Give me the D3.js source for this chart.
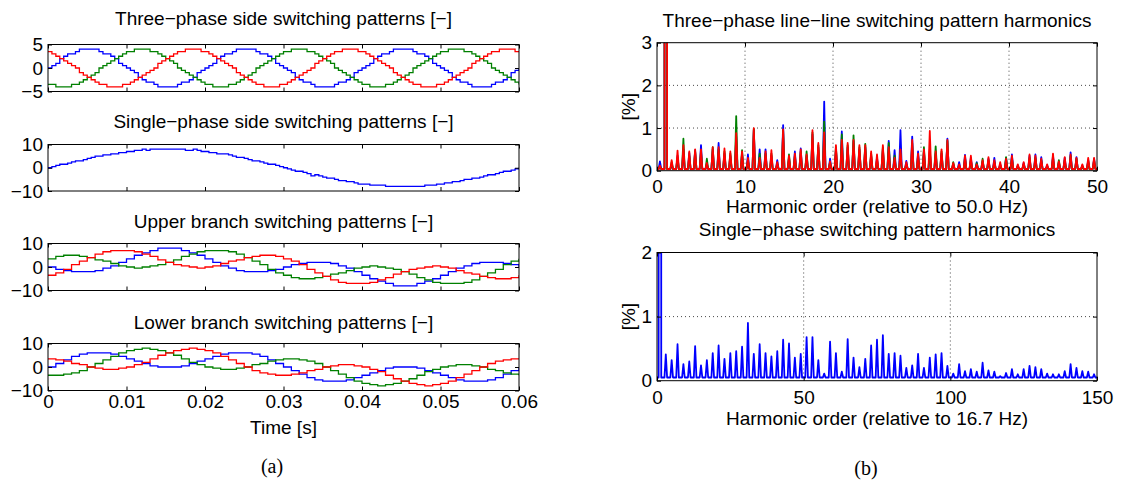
<!DOCTYPE html>
<html>
<head>
<meta charset="utf-8">
<script src="https://cdn.jsdelivr.net/npm/d3@7/dist/d3.min.js"></script>
<style>
  body { margin: 0; background: #fff; }
  svg text { font-family: "Liberation Sans", Arial, Helvetica, sans-serif; font-size: 19px; fill: #000; }
</style>
</head>
<body>
<svg id="chart" width="1136" height="481"></svg>
<script>
// Sampling steps of the time traces [s]
const tStepFine = 0.0005;   // three-phase and single-phase side
const tStepBranch = 0.001;  // branch patterns

// Three-phase side switching patterns
const threeBlue = [
  0,0.5,1,2,2.5,3,3,3.5,4,4,4,4,4,3.5,3,3,2.5,2,1,0.5,0,-0.5,-1,-2,-2.5,-3,-3,-3.5,-4,-4,-4,-4,-4,-3.5,-3,-3,-2.5,-2,-1,-0.5,
  0,0.5,1,2,2.5,3,3,3.5,4,4,4,4,4,3.5,3,3,2.5,2,1,0.5,0,-0.5,-1,-2,-2.5,-3,-3,-3.5,-4,-4,-4,-4,-4,-3.5,-3,-3,-2.5,-2,-1,-0.5,
  0,0.5,1,2,2.5,3,3,3.5,4,4,4,4,4,3.5,3,3,2.5,2,1,0.5,0,-0.5,-1,-2,-2.5,-3,-3,-3.5,-4,-4,-4,-4,-4,-3.5,-3,-3,-2.5,-2,-1,-0.5,
  0
];
const threeGreen = [
  -3.5,-3.5,-4,-4,-4,-4,-3.5,-3.5,-3,-2.5,-2,-1.5,-1,0,0.5,1,1.5,2,2.5,3,3.5,3.5,4,4,4,4,3.5,3.5,3,2.5,2,1.5,1,0,-0.5,-1,-1.5,-2,-2.5,-3,
  -3.5,-3.5,-4,-4,-4,-4,-3.5,-3.5,-3,-2.5,-2,-1.5,-1,0,0.5,1,1.5,2,2.5,3,3.5,3.5,4,4,4,4,3.5,3.5,3,2.5,2,1.5,1,0,-0.5,-1,-1.5,-2,-2.5,-3,
  -3.5,-3.5,-4,-4,-4,-4,-3.5,-3.5,-3,-2.5,-2,-1.5,-1,0,0.5,1,1.5,2,2.5,3,3.5,3.5,4,4,4,4,3.5,3.5,3,2.5,2,1.5,1,0,-0.5,-1,-1.5,-2,-2.5,-3,
  -3.5
];
const threeRed = [
  3.5,3,2.5,2,1.5,1,0.5,0,-1,-1.5,-2,-2.5,-3,-3.5,-3.5,-4,-4,-4,-4,-3.5,-3.5,-3,-2.5,-2,-1.5,-1,-0.5,0,1,1.5,2,2.5,3,3.5,3.5,4,4,4,4,3.5,
  3.5,3,2.5,2,1.5,1,0.5,0,-1,-1.5,-2,-2.5,-3,-3.5,-3.5,-4,-4,-4,-4,-3.5,-3.5,-3,-2.5,-2,-1.5,-1,-0.5,0,1,1.5,2,2.5,3,3.5,3.5,4,4,4,4,3.5,
  3.5,3,2.5,2,1.5,1,0.5,0,-1,-1.5,-2,-2.5,-3,-3.5,-3.5,-4,-4,-4,-4,-3.5,-3.5,-3,-2.5,-2,-1.5,-1,-0.5,0,1,1.5,2,2.5,3,3.5,3.5,4,4,4,4,3.5,
  3.5
];

// Single-phase side switching pattern
const singlePhase = [
  0,0.5,1,1.5,1.5,2,2.5,3,3,3.5,4,4.5,5,5,5.5,5.5,6,6,6.5,6.5,7,7,7.5,7.5,8,7.5,8,8,8,8,8,
  8,8,8,8,7.5,7.5,8,7.5,7,7,6.5,6.5,6,6,6,5.5,5,4.5,4.5,4,3.5,3,3,2.5,2,1.5,1.5,1,0.5,0,
  -0.5,-1,-1.5,-1.5,-2,-2.5,-3.5,-3,-3.5,-4,-4.5,-4.5,-5,-5.5,-5.5,-6,-6,-6.5,-7,-7,-7,-7.5,-7.5,-7.5,-7.5,-8,-8,-8,-8,-8,
  -8,-8,-8,-8,-8,-7.5,-7.5,-7.5,-7,-7,-6.5,-6.5,-6,-6,-5.5,-5,-5,-4.5,-4.5,-4,-3.5,-3,-3,-2.5,-2,-1.5,-1.5,-1,-0.5,0
];

// Upper branch switching patterns
const upperBlue = [0,-1,-1.5,-2,-2,-2,-1.5,-0.5,0.5,2,3.5,5,6,7,8,8,8,7,6,5,3.5,2,0.5,-0.5,-1.5,-2,-2,-2,-1.5,-1,0,1,1.5,2,2,2,1.5,0.5,-0.5,-2,-3.5,-5,-6,-7,-8,-8,-8,-7,-6,-5,-3.5,-2,-0.5,0.5,1.5,2,2,2,1.5,1,0];
const upperGreen = [3.5,4.5,5,5,4.5,4,3,2.5,1.5,0.5,0,-0.5,0,0.5,1,2,3,4.5,5.5,6.5,7,7,7,6.5,5.5,4,2.5,1,-1,-2.5,-3.5,-4.5,-5,-5,-4.5,-4,-3,-2.5,-1.5,-0.5,0,0.5,0,-0.5,-1,-2,-3,-4.5,-5.5,-6.5,-7,-7,-7,-6.5,-5.5,-4,-2.5,-1,1,2.5,3.5];
const upperRed = [-3.5,-2.5,-1,1,2.5,4,5.5,6.5,7,7,7,6.5,5.5,4.5,3,2,1,0.5,0,-0.5,0,0.5,1.5,2.5,3,4,4.5,5,5,4.5,3.5,2.5,1,-1,-2.5,-4,-5.5,-6.5,-7,-7,-7,-6.5,-5.5,-4.5,-3,-2,-1,-0.5,0,0.5,0,-0.5,-1.5,-2.5,-3,-4,-4.5,-5,-5,-4.5,-3.5];

// Lower branch switching patterns
const lowerBlue = [0,1.5,3,4.5,5.5,6,6,6,5.5,4.5,3.5,2.5,1.5,0.5,0,0,0,0.5,1.5,2.5,3.5,4.5,5.5,6,6,6,5.5,4.5,3,1.5,0,-1.5,-3,-4.5,-5.5,-6,-6,-6,-5.5,-4.5,-3.5,-2.5,-1.5,-0.5,0,0,0,-0.5,-1.5,-2.5,-3.5,-4.5,-5.5,-6,-6,-6,-5.5,-4.5,-3,-1.5,0];
const lowerGreen = [-3.5,-3.5,-3,-2.5,-1.5,0,1.5,3,4.5,6,7,7.5,8,7.5,7,6,5,3.5,2,1,0,-0.5,-1,-1,-0.5,0,1,1.5,2.5,3,3.5,3.5,3,2.5,1.5,0,-1.5,-3,-4.5,-6,-7,-7.5,-8,-7.5,-7,-6,-5,-3.5,-2,-1,0,0.5,1,1,0.5,0,-1,-1.5,-2.5,-3,-3.5];
const lowerRed = [3.5,3,2.5,1.5,1,0,-0.5,-1,-1,-0.5,0,1,2,3.5,5,6,7,7.5,8,7.5,7,6,4.5,3,1.5,0,-1.5,-2.5,-3,-3.5,-3.5,-3,-2.5,-1.5,-1,0,0.5,1,1,0.5,0,-1,-2,-3.5,-5,-6,-7,-7.5,-8,-7.5,-7,-6,-4.5,-3,-1.5,0,1.5,2.5,3,3.5,3.5];

const timeTicks = [0, 0.01, 0.02, 0.03, 0.04, 0.05, 0.06];
const timeTickLabels = ['0', '0.01', '0.02', '0.03', '0.04', '0.05', '0.06'];

// Line-line harmonics: components at odd multiples of 1/3 of the 50 Hz order
const llOrders = d3.range(75).map(j => (2 * j + 1) / 3);
const llBlue = [
  .22,100,.15,.35,.50,.42,.48,.60,.15,.50,
  .65,.40,.35,.80,.40,.38,.95,.50,.50,.35,
  .25,1.07,.30,.45,.52,.35,.85,.55,1.62,.28,
  .50,.92,.55,.70,.50,.55,.35,.30,.50,.70,
  .48,.95,.23,.80,.45,.45,.45,.40,.40,.75,
  .15,.20,.37,.30,.20,.22,.28,.30,.15,.30,
  .38,.12,.18,.35,.38,.32,.12,.35,.20,.30,
  .43,.32,.12,.25,.28
];
const llGreen = [
  .10,100,.20,.30,.75,.35,.45,.45,.28,.55,
  .50,.45,.40,1.28,.48,.25,.98,.40,.40,.40,
  .15,.95,.38,.35,.45,.45,.90,.60,1.15,.20,
  .55,.85,.60,.83,.55,.63,.40,.25,.55,.65,
  .35,.40,.15,.65,.35,.55,.50,.57,.45,.70,
  .20,.12,.30,.25,.18,.28,.25,.20,.12,.32,
  .30,.10,.15,.30,.30,.25,.10,.30,.25,.25,
  .35,.28,.10,.22,.25
];
const llRed = [
  .12,100,.25,.47,.60,.45,.50,.50,.18,.55,
  .55,.52,.45,.88,.45,.30,1.00,.30,.45,.48,
  .20,.97,.35,.40,.50,.38,.95,.65,.90,.22,
  .60,.72,.65,.72,.60,.60,.45,.38,.60,.55,
  .30,.50,.20,.72,.40,.50,.93,.45,.50,.72,
  .18,.15,.35,.35,.15,.25,.32,.25,.20,.28,
  .35,.15,.20,.38,.35,.28,.15,.40,.22,.32,
  .38,.30,.15,.30,.30
];
const llFloor = 0.04;

// Single-phase harmonics: odd orders of 16.7 Hz
const spOrders = d3.range(75).map(j => 2 * j + 1);
const spBlue = [
  100,.41,.32,.57,.26,.30,.54,.24,.32,.43,
  .55,.34,.43,.46,.53,.90,.42,.57,.43,.38,
  .46,.64,.58,.36,.42,.68,.68,.32,.11,.61,
  .43,.14,.65,.36,.21,.34,.55,.64,.71,.42,
  .43,.39,.20,.24,.42,.20,.36,.41,.43,.23,
  .11,.26,.15,.18,.14,.28,.16,.14,.07,.12,
  .18,.10,.18,.23,.21,.18,.11,.10,.10,.15,
  .26,.20,.15,.14,.10
];
const spFloor = 0.05;

const colBlue = '#0000ff', colGreen = '#008000', colRed = '#ff0000';

const svg = d3.select('#chart');
const fmtMinus = v => String(v).replace('-', '\u2212');
let clipCount = 0;

function addClip(x0, y0, w, h) {
  const id = 'clip' + (clipCount++);
  svg.append('clipPath').attr('id', id)
    .append('rect').attr('x', x0).attr('y', y0).attr('width', w).attr('height', h);
  return 'url(#' + id + ')';
}

// Box with inward ticks on all four sides, like MATLAB's "box on"
function drawFrame(g, x, y, xTicks, yTicks, xFmt, yFmt, xPad) {
  const [x0, x1] = x.range();
  const [y1, y0] = y.range();
  g.append('g').attr('transform', `translate(${x0},0)`)
    .call(d3.axisLeft(y).tickValues(yTicks).tickSize(-4).tickPadding(5).tickFormat(yFmt));
  g.append('g').attr('transform', `translate(${x1},0)`)
    .call(d3.axisRight(y).tickValues(yTicks).tickSize(-4).tickFormat(''));
  g.append('g').attr('transform', `translate(0,${y1})`)
    .call(d3.axisBottom(x).tickValues(xTicks).tickSize(-4).tickPadding(xPad).tickFormat(xFmt));
  g.append('g').attr('transform', `translate(0,${y0})`)
    .call(d3.axisTop(x).tickValues(xTicks).tickSize(-4).tickFormat(''));
  g.selectAll('.domain').remove();
  g.selectAll('.tick line').attr('stroke', '#000');
  g.selectAll('.tick text').attr('font-size', null).attr('font-family', null);
  g.append('rect')
    .attr('x', x0).attr('y', y0).attr('width', x1 - x0).attr('height', y1 - y0)
    .attr('fill', 'none').attr('stroke', '#000').attr('stroke-width', 1);
}

// ---- Left column: time traces ----
const leftX0 = 48, leftX1 = 519;

function drawTimePanel(p) {
  const g = svg.append('g');
  const x = d3.scaleLinear().domain([0, 0.06]).range([leftX0, leftX1]);
  const y = d3.scaleLinear().domain(p.yDomain).range([p.bottom, p.top]);

  g.append('text').attr('x', (leftX0 + leftX1) / 2).attr('y', p.titleY)
    .attr('text-anchor', 'middle').text(p.title);

  const clip = addClip(leftX0, p.top, leftX1 - leftX0, p.bottom - p.top);
  p.series.forEach(s => {
    const line = d3.line()
      .x((d, i) => x(i * s.dt))
      .y(d => y(d))
      .curve(d3.curveStepAfter);
    g.append('path').datum(s.values)
      .attr('d', line)
      .attr('fill', 'none')
      .attr('stroke', s.color)
      .attr('stroke-width', 1.3)
      .attr('clip-path', clip);
  });

  drawFrame(g, x, y, timeTicks, p.yTicks,
    p.showX ? (d, i) => timeTickLabels[i] : '', fmtMinus, 3.5);
}

drawTimePanel({
  title: 'Three\u2212phase side switching patterns [\u2212]', titleY: 25,
  top: 44.5, bottom: 91.5, yDomain: [-5, 5], yTicks: [-5, 0, 5],
  series: [
    { values: threeBlue, color: colBlue, dt: tStepFine },
    { values: threeGreen, color: colGreen, dt: tStepFine },
    { values: threeRed, color: colRed, dt: tStepFine }
  ]
});
drawTimePanel({
  title: 'Single\u2212phase side switching patterns [\u2212]', titleY: 128,
  top: 144.5, bottom: 191, yDomain: [-10, 10], yTicks: [-10, 0, 10],
  series: [{ values: singlePhase, color: colBlue, dt: tStepFine }]
});
drawTimePanel({
  title: 'Upper branch switching patterns [\u2212]', titleY: 228,
  top: 243.5, bottom: 290.5, yDomain: [-10, 10], yTicks: [-10, 0, 10],
  series: [
    { values: upperBlue, color: colBlue, dt: tStepBranch },
    { values: upperGreen, color: colGreen, dt: tStepBranch },
    { values: upperRed, color: colRed, dt: tStepBranch }
  ]
});
drawTimePanel({
  title: 'Lower branch switching patterns [\u2212]', titleY: 328.5,
  top: 343.5, bottom: 390.5, yDomain: [-10, 10], yTicks: [-10, 0, 10],
  showX: true,
  series: [
    { values: lowerBlue, color: colBlue, dt: tStepBranch },
    { values: lowerGreen, color: colGreen, dt: tStepBranch },
    { values: lowerRed, color: colRed, dt: tStepBranch }
  ]
});

svg.append('text').attr('x', (leftX0 + leftX1) / 2).attr('y', 434)
  .attr('text-anchor', 'middle').text('Time [s]');

// ---- Right column: harmonic spectra ----
const rightX0 = 657, rightX1 = 1097;

// each component is drawn as a narrow spike rising from the noise floor
function spikeTrace(orders, values, halfWidth, floor, xMax) {
  const pts = [[0, floor]];
  orders.forEach((o, i) => {
    pts.push([o - halfWidth, floor], [o, values[i]], [o + halfWidth, floor]);
  });
  pts.push([xMax, floor]);
  return pts;
}

function drawSpectrumPanel(p) {
  const g = svg.append('g');
  const x = d3.scaleLinear().domain([0, p.xMax]).range([rightX0, rightX1]);
  const y = d3.scaleLinear().domain([0, p.yMax]).range([p.bottom, p.top]);

  g.append('text').attr('x', (rightX0 + rightX1) / 2).attr('y', p.titleY)
    .attr('text-anchor', 'middle').text(p.title);

  // dotted grid
  const grid = g.append('g').attr('stroke', '#333').attr('stroke-width', 0.9)
    .attr('stroke-dasharray', '1,3');
  p.xTicks.slice(1, -1).forEach(v => {
    grid.append('line').attr('x1', x(v)).attr('x2', x(v)).attr('y1', p.top).attr('y2', p.bottom);
  });
  p.yTicks.slice(1, -1).forEach(v => {
    grid.append('line').attr('x1', rightX0).attr('x2', rightX1).attr('y1', y(v)).attr('y2', y(v));
  });

  const clip = addClip(rightX0, p.top, rightX1 - rightX0, p.bottom - p.top);
  const line = d3.line().x(d => x(d[0])).y(d => y(d[1]));
  p.series.forEach(s => {
    g.append('path')
      .datum(spikeTrace(p.orders, s.values, p.halfWidth, p.floor, p.xMax))
      .attr('d', line)
      .attr('fill', 'none')
      .attr('stroke', s.color)
      .attr('stroke-width', 1.8)
      .attr('stroke-linejoin', 'round')
      .attr('clip-path', clip);
  });

  drawFrame(g, x, y, p.xTicks, p.yTicks, d => d, d => d, p.xPad);

  g.append('text')
    .attr('transform', `translate(${rightX0 - 29},${(p.top + p.bottom) / 2}) rotate(-90)`)
    .attr('text-anchor', 'middle').attr('dy', '0.35em').text('[%]');
  g.append('text').attr('x', (rightX0 + rightX1) / 2).attr('y', p.xLabelY)
    .attr('text-anchor', 'middle').text(p.xLabel);
}

drawSpectrumPanel({
  title: 'Three\u2212phase line\u2212line switching pattern harmonics', titleY: 26.5,
  top: 42.7, bottom: 170.7, xMax: 50, yMax: 3,
  xTicks: [0, 10, 20, 30, 40, 50], yTicks: [0, 1, 2, 3], xPad: 9,
  orders: llOrders, halfWidth: 0.15, floor: llFloor,
  series: [
    { values: llBlue, color: colBlue },
    { values: llGreen, color: colGreen },
    { values: llRed, color: colRed }
  ],
  xLabel: 'Harmonic order (relative to 50.0 Hz)', xLabelY: 213
});
drawSpectrumPanel({
  title: 'Single\u2212phase switching pattern harmonics', titleY: 235.5,
  top: 252.5, bottom: 380.7, xMax: 150, yMax: 2,
  xTicks: [0, 50, 100, 150], yTicks: [0, 1, 2], xPad: 10,
  orders: spOrders, halfWidth: 0.45, floor: spFloor,
  series: [{ values: spBlue, color: colBlue }],
  xLabel: 'Harmonic order (relative to 16.7 Hz)', xLabelY: 424.5
});

// sub-figure captions
svg.append('text').attr('x', 272).attr('y', 473).attr('text-anchor', 'middle')
  .style('font-family', '"Liberation Serif", "Times New Roman", serif').style('font-size', '20px').text('(a)');
svg.append('text').attr('x', 866).attr('y', 475).attr('text-anchor', 'middle')
  .style('font-family', '"Liberation Serif", "Times New Roman", serif').style('font-size', '20px').text('(b)');
</script>
</body>
</html>
